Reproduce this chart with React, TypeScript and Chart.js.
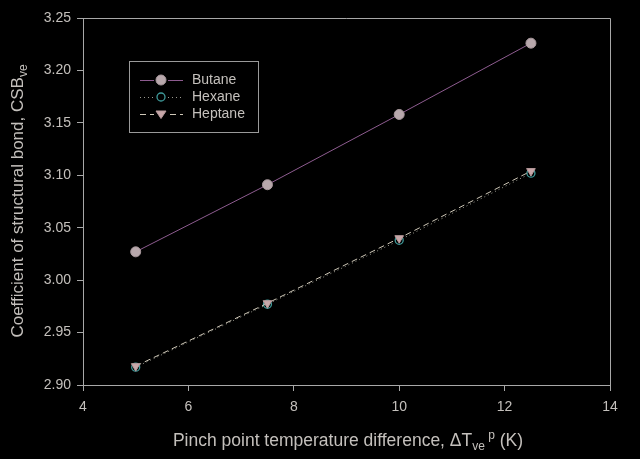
import React, { useEffect, useRef } from "react";
import { Chart, registerables } from "chart.js";

Chart.register(...registerables);

const xValues = [5, 7.5, 10, 12.5];
const butane = [3.027, 3.091, 3.158, 3.226];
const hexane = [2.917, 2.977, 3.038, 3.102];
const heptane = [2.918, 2.978, 3.040, 3.104];
const seriesNames = ["Butane", "Hexane", "Heptane"];

const FONT = "'Liberation Sans', Arial, sans-serif";
const TEXT = "#c4c0bc";
const AXIS = "#a8a8a8";

const overlay = {
  id: "overlay",
  afterDraw(chart: any) {
    const ctx = chart.ctx;
    const a = chart.chartArea;
    ctx.save();
    ctx.strokeStyle = AXIS;
    ctx.lineWidth = 1;
    ctx.beginPath();
    ctx.moveTo(a.left, a.top + 0.5);
    ctx.lineTo(a.right + 0.5, a.top + 0.5);
    ctx.lineTo(a.right + 0.5, a.bottom);
    ctx.stroke();

    // legend
    const lx = 129, ly = 61, lw = 129, lh = 71;
    ctx.strokeStyle = "#9a9a9a";
    ctx.strokeRect(lx + 0.5, ly + 0.5, lw, lh);
    const rows = [80, 97, 114];
    chart.data.datasets.forEach((ds: any, i: number) => {
      const y = rows[i];
      ctx.save();
      ctx.strokeStyle = ds.borderColor;
      ctx.lineWidth = 1;
      ctx.setLineDash(ds.borderDash || []);
      ctx.beginPath();
      ctx.moveTo(140, y + 0.5);
      ctx.lineTo(183, y + 0.5);
      ctx.stroke();
      ctx.setLineDash([]);
      ctx.fillStyle = "#000";
      ctx.fillRect(154, y - 6, 14, 12);
      ctx.restore();
      ctx.save();
      ctx.fillStyle = ds.pointBackgroundColor;
      ctx.strokeStyle = ds.pointBorderColor;
      ctx.lineWidth = ds.pointBorderWidth;
      const r = ds.pointRadius;
      ctx.beginPath();
      if (ds.pointStyle === "triangle") {
        ctx.moveTo(161 - r, y - r * 0.6);
        ctx.lineTo(161 + r, y - r * 0.6);
        ctx.lineTo(161, y + r * 0.9);
        ctx.closePath();
      } else {
        ctx.arc(161, y, r, 0, Math.PI * 2);
      }
      ctx.fill();
      ctx.stroke();
      ctx.restore();
      ctx.fillStyle = TEXT;
      ctx.font = `14px ${FONT}`;
      ctx.textBaseline = "middle";
      ctx.textAlign = "left";
      ctx.fillText(seriesNames[i], 192, y);
    });

    // x title
    ctx.fillStyle = TEXT;
    ctx.textBaseline = "alphabetic";
    const big = `17.5px ${FONT}`;
    const small = `12px ${FONT}`;
    const parts: [string, string, number][] = [
      ["Pinch point temperature difference, \u0394T", big, 0],
      ["ve", small, 4],
      [" p", small, -7],
      [" (K)", big, 0],
    ];
    let total = 0;
    parts.forEach(([t, f]) => { ctx.font = f; total += ctx.measureText(t).width; });
    let x = 348 - total / 2;
    const by = 446;
    parts.forEach(([t, f, dy]) => {
      ctx.font = f;
      ctx.textAlign = "left";
      ctx.fillText(t, x, by + dy);
      x += ctx.measureText(t).width;
    });

    // y title
    ctx.save();
    ctx.translate(23, 201);
    ctx.rotate(-Math.PI / 2);
    const ybig = `17px ${FONT}`;
    const yparts: [string, string, number][] = [
      ["Coefficient of structural bond, CSB", ybig, 0],
      ["ve", small, 4],
    ];
    let ytotal = 0;
    yparts.forEach(([t, f]) => { ctx.font = f; ytotal += ctx.measureText(t).width; });
    let yx = -ytotal / 2;
    yparts.forEach(([t, f, dy]) => {
      ctx.font = f;
      ctx.fillText(t, yx, dy);
      yx += ctx.measureText(t).width;
    });
    ctx.restore();
    ctx.restore();
  },
};

export default function App() {
  const ref = useRef<HTMLCanvasElement>(null);
  useEffect(() => {
    document.body.style.margin = "0";
    document.body.style.background = "#000";
    const mk = (arr: number[]) => xValues.map((x, i) => ({ x, y: arr[i] }));
    const chart = new Chart(ref.current!, {
      type: "line",
      data: {
        datasets: [
          {
            label: seriesNames[0],
            data: mk(butane),
            borderColor: "#8e5c90",
            borderWidth: 1,
            pointStyle: "circle",
            pointRadius: 5,
            pointBackgroundColor: "#b8a8ac",
            pointBorderColor: "#a8989c",
            pointBorderWidth: 1,
            order: 0,
          } as any,
          {
            label: seriesNames[1],
            data: mk(hexane),
            borderColor: "#9a9a90",
            borderWidth: 1,
            borderDash: [1, 3],
            pointStyle: "circle",
            pointRadius: 4,
            pointBackgroundColor: "#000",
            pointBorderColor: "#3f9a9a",
            pointBorderWidth: 1.3,
            order: 2,
          },
          {
            label: seriesNames[2],
            data: mk(heptane),
            borderColor: "#cfc8b8",
            borderWidth: 1,
            borderDash: [6, 4],
            pointStyle: "triangle",
            pointRotation: 180,
            pointRadius: 5,
            pointBackgroundColor: "#c8a8aa",
            pointBorderColor: "#b89a9c",
            pointBorderWidth: 1,
            order: 1,
          } as any,
        ],
      },
      options: {
        animation: false,
        responsive: false,
        layout: { padding: { left: 0, top: 18, right: 30, bottom: 0 } },
        plugins: { legend: { display: false }, tooltip: { enabled: false } },
        scales: {
          x: {
            type: "linear",
            min: 4,
            max: 14,
            ticks: { stepSize: 2, color: TEXT, font: { family: FONT, size: 14 }, padding: 8 },
            grid: { drawOnChartArea: false, drawTicks: true, tickLength: 6, color: AXIS },
            border: { color: AXIS },
            afterFit: (s: any) => { s.height = 74; },
          },
          y: {
            type: "linear",
            min: 2.9,
            max: 3.25,
            ticks: {
              stepSize: 0.05,
              color: TEXT,
              font: { family: FONT, size: 14 },
              padding: 6,
              callback: (v: any) => Number(v).toFixed(2),
            },
            grid: { drawOnChartArea: false, drawTicks: true, tickLength: 6, color: AXIS },
            border: { color: AXIS },
            afterFit: (s: any) => { s.width = 83; },
          },
        },
      },
      plugins: [overlay],
    });
    return () => chart.destroy();
  }, []);
  return (
    <div style={{ position: "absolute", left: 0, top: 0, width: 640, height: 459, background: "#000" }}>
      <canvas ref={ref} width={640} height={459} style={{ width: 640, height: 459 }} />
    </div>
  );
}
